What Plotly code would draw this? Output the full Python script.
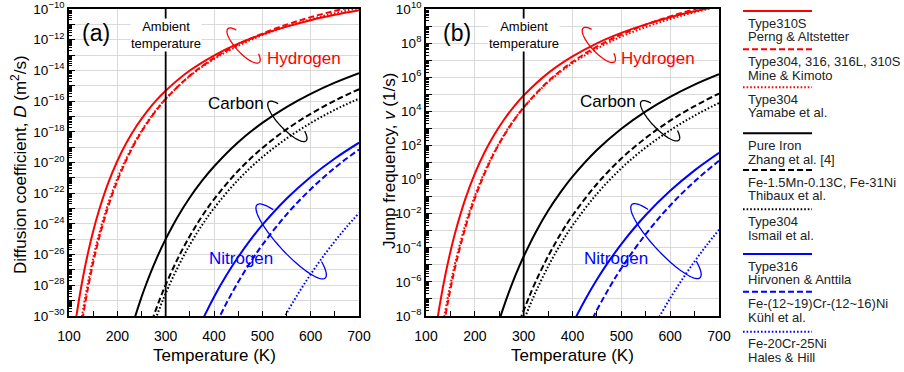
import math
import plotly.graph_objects as go

# ---------------- data (log10 values) ----------------
# Hydrogen
T_H = [110, 120, 130, 140, 150, 160, 180, 200, 220, 240, 260, 280, 300, 350, 400, 450, 500, 550, 600, 650, 700]
logD_H_perng = [-31.15, -29.07, -27.30, -25.79, -24.48, -23.34, -21.43, -19.90, -18.65, -17.61, -16.73, -15.97, -15.32,
                -14.01, -13.03, -12.26, -11.65, -11.15, -10.73, -10.38, -10.08]
logD_H_mine = [-34.29, -31.87, -29.82, -28.06, -26.53, -25.20, -22.98, -21.20, -19.75, -18.53, -17.51, -16.63, -15.87,
               -14.34, -13.20, -12.31, -11.60, -11.02, -10.53, -10.12, -9.77]
logD_H_yamabe = [-33.77, -31.41, -29.42, -27.71, -26.23, -24.93, -22.77, -21.04, -19.63, -18.45, -17.45, -16.59, -15.85,
                 -14.37, -13.26, -12.40, -11.70, -11.14, -10.67, -10.27, -9.93]
logV_H_perng = [-10.90, -8.82, -7.05, -5.54, -4.23, -3.09, -1.18, 0.35, 1.60, 2.64, 3.52, 4.28, 4.93,
                6.24, 7.22, 7.99, 8.60, 9.10, 9.52, 9.87, 10.17]
logV_H_mine = [-14.19, -11.77, -9.72, -7.96, -6.43, -5.10, -2.88, -1.10, 0.35, 1.57, 2.59, 3.47, 4.23,
               5.76, 6.90, 7.79, 8.50, 9.08, 9.57, 9.98, 10.33]
logV_H_yamabe = [-13.69, -11.33, -9.34, -7.63, -6.15, -4.85, -2.69, -0.96, 0.45, 1.63, 2.63, 3.49, 4.23,
                 5.71, 6.82, 7.68, 8.38, 8.94, 9.41, 9.81, 10.15]

# Carbon
T_D_C_zhang = [220, 230, 240, 250, 260, 270, 280, 290, 300, 325, 350, 375, 400, 450, 500, 550, 600, 650, 700]
logD_C_zhang = [-31.87, -30.74, -29.72, -28.77, -27.90, -27.09, -26.34, -25.64, -24.99, -23.53, -22.28, -21.20,
                -20.26, -18.68, -17.42, -16.39, -15.53, -14.80, -14.18]
T_D_C_other = [260, 270, 280, 290, 300, 325, 350, 375, 400, 450, 500, 550, 600, 650, 700]
logD_C_thibaux = [-31.40, -30.45, -29.57, -28.74, -27.97, -26.26, -24.79, -23.51, -22.40, -20.54, -19.06, -17.84,
                  -16.83, -15.97, -15.23]
logD_C_ismail = [-31.95, -31.00, -30.12, -29.30, -28.53, -26.83, -25.36, -24.09, -22.98, -21.13, -19.65, -18.44,
                 -17.43, -16.57, -15.84]
T_V_C_zhang = [240, 250, 260, 270, 280, 290, 300, 325, 350, 375, 400, 450, 500, 550, 600, 650, 700]
logV_C_zhang = [-9.18, -8.25, -7.39, -6.59, -5.84, -5.15, -4.51, -3.07, -1.83, -0.77, 0.17, 1.73, 2.98, 4.00,
                4.85, 5.57, 6.18]
T_V_C_thibaux = [280, 290, 300, 310, 325, 350, 375, 400, 450, 500, 550, 600, 650, 700]
logV_C_thibaux = [-9.26, -8.44, -7.67, -6.96, -5.96, -4.50, -3.22, -2.11, -0.26, 1.23, 2.44, 3.45, 4.31, 5.04]
T_V_C_ismail = [290, 300, 310, 325, 350, 375, 400, 450, 500, 550, 600, 650, 700]
logV_C_ismail = [-9.07, -8.29, -7.57, -6.57, -5.10, -3.82, -2.70, -0.84, 0.66, 1.88, 2.89, 3.75, 4.49]

# Nitrogen
T_D_N_hirvonen = [360, 375, 400, 425, 450, 475, 500, 550, 600, 650, 700]
logD_N_hirvonen = [-31.37, -30.33, -28.76, -27.38, -26.16, -25.06, -24.07, -22.36, -20.94, -19.74, -18.71]
T_D_N_kuhl = [390, 400, 425, 450, 475, 500, 550, 600, 650, 700]
logD_N_kuhl = [-31.51, -30.82, -29.21, -27.79, -26.52, -25.37, -23.39, -21.74, -20.34, -19.15]
T_D_N_hales = [530, 550, 575, 600, 625, 650, 675, 700]
logD_N_hales = [-30.98, -29.83, -28.50, -27.28, -26.16, -25.13, -24.17, -23.29]
T_V_N_hirvonen = [390, 400, 425, 450, 475, 500, 550, 600, 650, 700]
logV_N_hirvonen = [-9.07, -8.47, -7.09, -5.86, -4.77, -3.78, -2.08, -0.66, 0.54, 1.57]
T_V_N_kuhl = [425, 450, 475, 500, 550, 600, 650, 700]
logV_N_kuhl = [-9.09, -7.65, -6.36, -5.20, -3.20, -1.52, -0.11, 1.10]
T_V_N_hales = [560, 575, 600, 625, 650, 675, 700]
logV_N_hales = [-8.97, -8.19, -6.96, -5.84, -4.80, -3.84, -2.94]

legend_labels = [
    ("Type310S", "Perng & Altstetter"),
    ("Type304, 316, 316L, 310S", "Mine & Kimoto"),
    ("Type304", "Yamabe et al."),
    ("Pure Iron", "Zhang et al. [4]"),
    ("Fe-1.5Mn-0.13C, Fe-31Ni", "Thibaux et al."),
    ("Type304", "Ismail et al."),
    ("Type316", "Hirvonen & Anttila"),
    ("Fe-(12~19)Cr-(12~16)Ni", "Kühl et al."),
    ("Fe-20Cr-25Ni", "Hales & Hill"),
]

x_ticks = [100, 200, 300, 400, 500, 600, 700]
D_exponents = list(range(-30, -9))
V_exponents = list(range(-8, 11))

# ---------------- styles ----------------
RED, BLACK, BLUE = "#ff0000", "#000000", "#0000ff"
SOLID, DASH, DOT = "solid", "6px,3px", "1.6px,2px"
FONT = "Liberation Sans, Arial, sans-serif"
W, H = 904, 372

series = [
    (T_H, logD_H_perng, T_H, logV_H_perng, RED, SOLID),
    (T_H, logD_H_mine, T_H, logV_H_mine, RED, DASH),
    (T_H, logD_H_yamabe, T_H, logV_H_yamabe, RED, DOT),
    (T_D_C_zhang, logD_C_zhang, T_V_C_zhang, logV_C_zhang, BLACK, SOLID),
    (T_D_C_other, logD_C_thibaux, T_V_C_thibaux, logV_C_thibaux, BLACK, DASH),
    (T_D_C_other, logD_C_ismail, T_V_C_ismail, logV_C_ismail, BLACK, DOT),
    (T_D_N_hirvonen, logD_N_hirvonen, T_V_N_hirvonen, logV_N_hirvonen, BLUE, SOLID),
    (T_D_N_kuhl, logD_N_kuhl, T_V_N_kuhl, logV_N_kuhl, BLUE, DASH),
    (T_D_N_hales, logD_N_hales, T_V_N_hales, logV_N_hales, BLUE, DOT),
]

fig = go.Figure()
for tD, lD, tV, lV, col, dash in series:
    fig.add_trace(go.Scatter(x=tD, y=[10 ** v for v in lD], mode="lines", xaxis="x", yaxis="y",
                             line=dict(color=col, width=2, dash=dash, shape="spline"),
                             showlegend=False, hoverinfo="skip"))
    fig.add_trace(go.Scatter(x=tV, y=[10 ** v for v in lV], mode="lines", xaxis="x2", yaxis="y2",
                             line=dict(color=col, width=2, dash=dash, shape="spline"),
                             showlegend=False, hoverinfo="skip"))


def sup(e):
    s = str(e).replace("-", "\u2212")
    return "10<sup>" + s + "</sup>"


def yaxis_cfg(exps, domain, anchor):
    return dict(type="log", domain=domain, anchor=anchor, range=[exps[0], exps[-1]],
                tickmode="array", tickvals=[10.0 ** e for e in exps],
                ticktext=[sup(e) if e % 2 == 0 else "" for e in exps],
                ticks="inside", ticklen=6, tickwidth=1, tickcolor="black",
                minor=dict(ticks="inside", ticklen=3, tickcolor="black", dtick="D1", showgrid=False),
                showgrid=True, gridcolor="#d9d9d9", gridwidth=1, zeroline=False,
                showline=True, mirror=True, linecolor="black", linewidth=1.8,
                automargin=False, ticklabeloverflow="allow",
                tickfont=dict(family=FONT, size=13.5, color="black"))


def xaxis_cfg(domain, anchor):
    return dict(domain=domain, anchor=anchor, range=[100, 700], tickmode="array", tickvals=x_ticks,
                ticks="inside", ticklen=5, tickcolor="black",
                minor=dict(ticks="inside", ticklen=5, tickcolor="black", dtick=50, tick0=100, showgrid=False),
                showgrid=True, gridcolor="#d9d9d9", gridwidth=1, zeroline=False,
                showline=True, mirror=True, linecolor="black", linewidth=1.8,
                automargin=False, ticklabeloverflow="allow",
                ticklabelstandoff=6,
                tickfont=dict(family=FONT, size=14, color="black"))


ydom = [1 - 316 / H, 1 - 9 / H]
fig.update_layout(
    width=W, height=H, autosize=False, margin=dict(l=0, r=0, t=0, b=0, pad=0, autoexpand=False),
    paper_bgcolor="white", plot_bgcolor="white",
    xaxis=xaxis_cfg([69 / W, 359 / W], "y"),
    yaxis=yaxis_cfg(D_exponents, ydom, "x"),
    xaxis2=xaxis_cfg([426 / W, 719 / W], "y2"),
    yaxis2=yaxis_cfg(V_exponents, ydom, "x2"),
)


def px(x, y):
    return x / W, 1 - y / H


shapes = []
annotations = []

# ambient temperature lines
for xr, yr in (("x", "y domain"), ("x2", "y2 domain")):
    shapes.append(dict(type="line", xref=xr, yref=yr, x0=300, x1=300, y0=0, y1=1,
                       line=dict(color="black", width=1.8), layer="above"))


def ellipse_path(A, B, ang_deg, gap=(45, 135), n=80):
    c, s = math.cos(math.radians(ang_deg)), math.sin(math.radians(ang_deg))
    span = 360 - (gap[1] - gap[0])
    pts = []
    for i in range(n + 1):
        t = math.radians(gap[1] + span * i / n)
        ex, ey = A * math.cos(t), B * math.sin(t)
        sx = ex * c + ey * s
        sy = ex * s - ey * c
        pts.append("%.2f,%.2f" % (sx, -sy))
    return "M " + " L ".join(pts)


ellipses = [
    ("x domain", "y domain", 0.602, 0.881, 23, 7.5, 47, RED),
    ("x domain", "y domain", 0.753, 0.634, 27, 8, 46, BLACK),
    ("x domain", "y domain", 0.766, 0.243, 50, 12, 47, BLUE),
    ("x2 domain", "y2 domain", 0.590, 0.883, 23, 7.5, 47, RED),
    ("x2 domain", "y2 domain", 0.799, 0.636, 27, 8, 46, BLACK),
    ("x2 domain", "y2 domain", 0.819, 0.244, 50, 12, 47, BLUE),
]
for xr, yr, fx, fy, A, B, ang, col in ellipses:
    shapes.append(dict(type="path", xref=xr, yref=yr, xsizemode="pixel", ysizemode="pixel",
                       xanchor=fx, yanchor=fy, path=ellipse_path(A, B, ang),
                       line=dict(color=col, width=1.3), layer="above"))


def text(x, y, s, size, color="black", **kw):
    ax, ay = px(x, y)
    d = dict(x=ax, y=ay, xref="paper", yref="paper", text=s, showarrow=False,
             font=dict(family=FONT, size=size, color=color), xanchor="center", yanchor="middle")
    d.update(kw)
    annotations.append(d)


text(96, 33, "(a)", 23)
text(457, 33, "(b)", 23)
text(165.7, 35, "Ambient<br>temperature", 13, bgcolor="white", borderpad=0)
text(524, 35, "Ambient<br>temperature", 13, bgcolor="white", borderpad=0)
text(303.5, 58.3, "Hydrogen", 17, RED)
text(658, 58.3, "Hydrogen", 17, RED)
text(236, 104, "Carbon", 17)
text(607.5, 101.7, "Carbon", 17)
text(241, 258.3, "Nitrogen", 17, BLUE)
text(616, 258.3, "Nitrogen", 17, BLUE)
text(214, 355, "Temperature (K)", 17)
text(572.5, 355, "Temperature (K)", 17)
text(19, 165, "Diffusion coefficient, <i>D</i> (m<sup>2</sup>/s)", 17, textangle=-90)
text(389, 161, "Jump frequency, <i>v</i> (1/s)", 17, textangle=-90)

# custom legend
leg_line_y = [11, 49.3, 87.3, 133.3, 170, 209.3, 254, 291.7, 331.7]
for (l1, l2), ly, (_, _, _, _, col, dash) in zip(legend_labels, leg_line_y, series):
    x0, y0 = px(743, ly)
    x1, _ = px(812, ly)
    shapes.append(dict(type="line", xref="paper", yref="paper", x0=x0, x1=x1, y0=y0, y1=y0,
                       line=dict(color=col, width=2, dash=dash)))
    text(746, ly + 12.2, l1, 13, "#222222", xanchor="left")
    text(746, ly + 25.7, l2, 13, "#222222", xanchor="left")

fig.update_layout(shapes=shapes, annotations=annotations)
fig.write_html("out.html", config={"displayModeBar": False})
